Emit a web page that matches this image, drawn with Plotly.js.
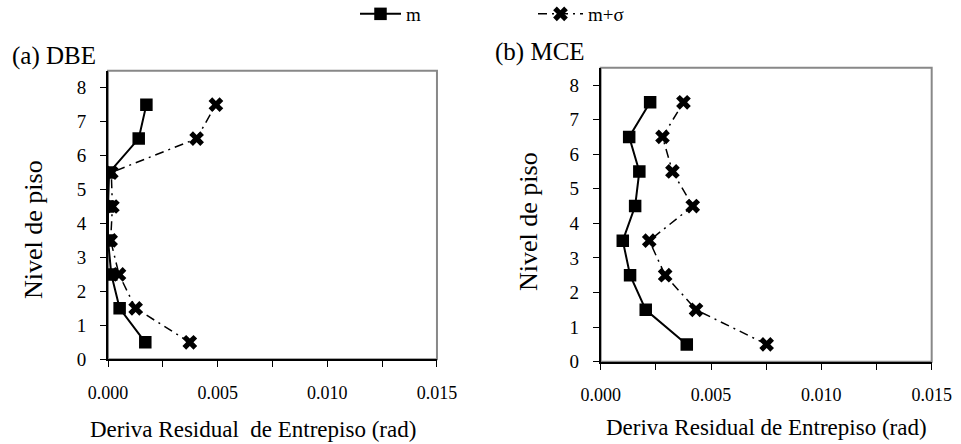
<!DOCTYPE html>
<html>
<head>
<meta charset="utf-8">
<script src="https://cdn.plot.ly/plotly-3.0.1.min.js"></script>
<style>html,body{margin:0;padding:0;background:#fff;}#plot{width:961px;height:444px;}</style>
</head>
<body>
<div id="plot"></div>
<script>
// Floor levels (y)
const niveles = [0.5, 1.5, 2.5, 3.5, 4.5, 5.5, 6.5, 7.5];
// (a) DBE
const dbe_m      = [0.0017, 0.00053, 0.00015, 0.0000, 0.0000, 0.00005, 0.0014, 0.00175];
const dbe_msigma = [0.00373, 0.00126, 0.0005, 0.00012, 0.0002, 0.00015, 0.00404, 0.00492];
// (b) MCE
const mce_m      = [0.0039, 0.00204, 0.00133, 0.0010, 0.00156, 0.00175, 0.00129, 0.00224];
const mce_msigma = [0.00752, 0.00432, 0.00292, 0.0022, 0.00417, 0.00325, 0.0028, 0.00375];

const xTickVals = [0, 0.0025, 0.005, 0.0075, 0.010, 0.0125, 0.015];
const xTickText = ['0.000', '', '0.005', '', '0.010', '', '0.015'];
const yTickVals = [0, 1, 2, 3, 4, 5, 6, 7, 8];

const FONT = 'Liberation Serif';

const mStyle = {
  mode: 'lines+markers',
  line: {color: '#000', width: 2, dash: 'solid'},
  marker: {symbol: 'square', size: 12.5, color: '#000'}
};
const sStyle = {
  mode: 'lines+markers',
  line: {color: '#000', width: 1.5, dash: '9px,5px,2px,5px'},
  marker: {symbol: 'x', size: 13, color: '#000'}
};

const traces = [
  Object.assign({x: dbe_m, y: niveles, name: 'm', xaxis: 'x', yaxis: 'y', legend: 'legend', showlegend: true}, mStyle),
  Object.assign({x: dbe_msigma, y: niveles, name: 'm+σ', xaxis: 'x', yaxis: 'y', legend: 'legend2', showlegend: true}, sStyle),
  Object.assign({x: mce_m, y: niveles, name: 'm', xaxis: 'x2', yaxis: 'y2', showlegend: false}, mStyle),
  Object.assign({x: mce_msigma, y: niveles, name: 'm+σ', xaxis: 'x2', yaxis: 'y2', showlegend: false}, sStyle)
];

function xax(domain, anchor) {
  return {
    domain: domain, anchor: anchor, range: [0, 0.015],
    tickvals: xTickVals, ticktext: xTickText,
    ticks: 'outside', ticklen: 6, tickcolor: '#000', tickwidth: 1,
    showline: true, linecolor: '#000', linewidth: 2,
    showgrid: false, zeroline: false,
    ticklabelstandoff: 10,
    tickfont: {family: FONT, size: 18, color: '#000'}
  };
}
function yax(domain, anchor) {
  return {
    domain: domain, anchor: anchor, range: [0, 8.5],
    tickvals: yTickVals,
    ticks: 'outside', ticklen: 6, tickcolor: '#000', tickwidth: 1,
    showline: true, linecolor: '#000', linewidth: 2,
    showgrid: false, zeroline: false,
    ticklabelstandoff: 10,
    tickfont: {family: FONT, size: 19, color: '#000'}
  };
}

const layout = {
  width: 961, height: 444,
  margin: {l: 0, r: 0, t: 0, b: 0, autoexpand: false},
  paper_bgcolor: '#fff', plot_bgcolor: '#fff',
  font: {family: FONT, color: '#000'},
  xaxis: xax([0.1124, 0.4547], 'y'),
  yaxis: yax([0.1908, 0.8408], 'x'),
  xaxis2: xax([0.6251, 0.9695], 'y2'),
  yaxis2: yax([0.1854, 0.8475], 'x2'),
  legend: {orientation: 'h', x: 355/961, y: 1 - 14/444, xanchor: 'left', yanchor: 'middle',
           itemwidth: 41, font: {family: FONT, size: 19, color: '#000'}, bgcolor: 'rgba(0,0,0,0)'},
  legend2: {orientation: 'h', x: 533/961, y: 1 - 14/444, xanchor: 'left', yanchor: 'middle',
           itemwidth: 45, font: {family: FONT, size: 19, color: '#000'}, bgcolor: 'rgba(0,0,0,0)'},
  shapes: [
    {type: 'rect', xref: 'x domain', yref: 'y domain', x0: 0, x1: 1, y0: 0, y1: 1,
     line: {color: '#888', width: 2}, layer: 'below'},
    {type: 'rect', xref: 'x2 domain', yref: 'y2 domain', x0: 0, x1: 1, y0: 0, y1: 1,
     line: {color: '#888', width: 2}, layer: 'below'}
  ],
  annotations: [
    {text: '(a) DBE', xref: 'paper', yref: 'paper', x: 10/961, y: 1 - 56/444, xanchor: 'left', yanchor: 'middle',
     showarrow: false, font: {family: FONT, size: 25, color: '#000'}},
    {text: '(b) MCE', xref: 'paper', yref: 'paper', x: 493/961, y: 1 - 52/444, xanchor: 'left', yanchor: 'middle',
     showarrow: false, font: {family: FONT, size: 25, color: '#000'}},
    {text: 'Nivel de piso', xref: 'paper', yref: 'paper', x: 33/961, y: 1 - 230/444, xanchor: 'center', yanchor: 'middle',
     textangle: -90, showarrow: false, font: {family: FONT, size: 26, color: '#000'}},
    {text: 'Nivel de piso', xref: 'paper', yref: 'paper', x: 528/961, y: 1 - 222/444, xanchor: 'center', yanchor: 'middle',
     textangle: -90, showarrow: false, font: {family: FONT, size: 26, color: '#000'}},
    {text: 'Deriva Residual\u00a0 de Entrepiso (rad)', xref: 'paper', yref: 'paper', x: 253/961, y: 1 - 429/444, xanchor: 'center', yanchor: 'middle',
     showarrow: false, font: {family: FONT, size: 23, color: '#000'}},
    {text: 'Deriva Residual de Entrepiso (rad)', xref: 'paper', yref: 'paper', x: 766/961, y: 1 - 427/444, xanchor: 'center', yanchor: 'middle',
     showarrow: false, font: {family: FONT, size: 23, color: '#000'}}
  ]
};

Plotly.newPlot('plot', traces, layout, {displayModeBar: false, staticPlot: true});
</script>
</body>
</html>
